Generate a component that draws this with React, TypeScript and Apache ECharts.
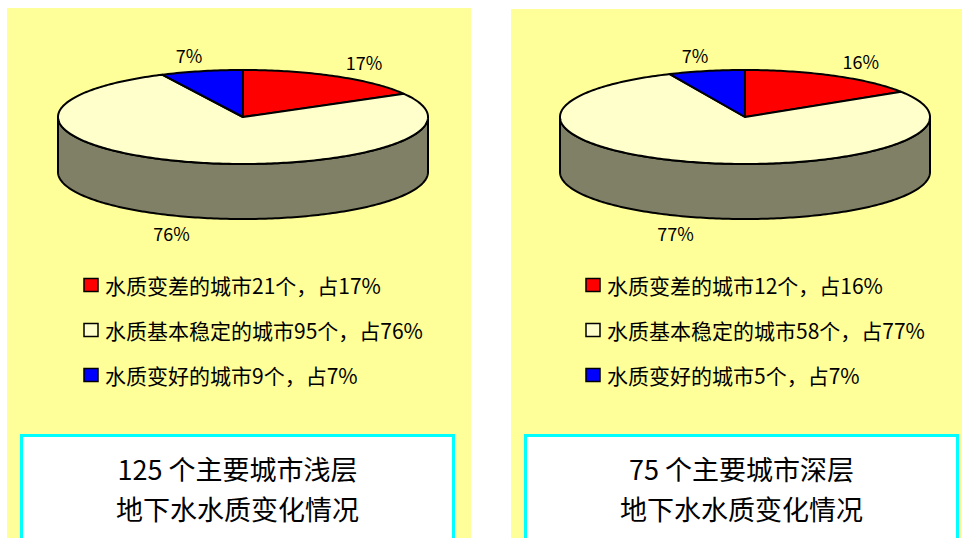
import React, { useEffect, useRef } from "react";
import * as echarts from "echarts";

// ---- data ----
const CATEGORIES = ["变差", "基本稳定", "变好"];
const SHALLOW_COUNTS = [21, 95, 9];
const DEEP_COUNTS = [12, 58, 5];
const SHALLOW_TITLE = ["125 个主要城市浅层", "地下水水质变化情况"];
const DEEP_TITLE = ["75 个主要城市深层", "地下水水质变化情况"];

// ---- styles / layout ----
const SLICE_COLORS = ["#ff0000", "#ffffcc", "#0000ff"];
const SIDE_COLORS = ["#800000", "#808066", "#000080"];
const FONT = '"Noto Sans CJK SC", "Noto Sans", sans-serif';
const PANEL_BG = "#ffff99";
const RX = 185;
const RY = 47;
const DEPTH = 55;

const PANELS = [
  { counts: SHALLOW_COUNTS, title: SHALLOW_TITLE, bgX: 7, bgY: 8, bgW: 464, cx: 243, cy: 117, legendX: 84, boxX: 21.5, boxW: 432 },
  { counts: DEEP_COUNTS, title: DEEP_TITLE, bgX: 511, bgY: 9, bgW: 451, cx: 745, cy: 117, legendX: 586, boxX: 525.5, boxW: 432 },
];
const LEGEND_ROWS_Y = [285, 330, 375];

function pct(counts: number[], i: number) {
  const total = counts.reduce((a, b) => a + b, 0);
  return Math.round((counts[i] / total) * 100);
}

function makeSeries(panel: any, idx: number) {
  const counts: number[] = panel.counts;
  const total = counts.reduce((a, b) => a + b, 0);
  const { cx, cy } = panel;
  const pt = (deg: number, dy = 0) => {
    const r = (deg * Math.PI) / 180;
    return [cx + RX * Math.cos(r), cy - RY * Math.sin(r) + dy];
  };
  const arc = (from: number, to: number, dy = 0) => {
    const pts: number[][] = [];
    const n = Math.max(2, Math.ceil(Math.abs(from - to)));
    for (let k = 0; k <= n; k++) pts.push(pt(from + ((to - from) * k) / n, dy));
    return pts;
  };
  return {
    type: "custom",
    name: "pie" + idx,
    coordinateSystem: "none",
    z: 10,
    silent: true,
    data: counts.map((v, i) => ({ name: CATEGORIES[i], value: v })),
    renderItem: (params: any, api: any) => {
      const i = params.dataIndex;
      const v = api.value(0);
      let cum = 0;
      for (let k = 0; k < i; k++) cum += counts[k];
      const a0 = 90 - (360 * cum) / total;
      const a1 = a0 - (360 * v) / total;
      const children: any[] = [];
      for (let k = -1; k <= 1; k++) {
        const lo = Math.max(a1, -180 + 360 * k);
        const hi = Math.min(a0, 360 * k);
        if (hi > lo) {
          const pts = arc(hi, lo).concat(arc(lo, hi, DEPTH));
          children.push({
            type: "polygon",
            shape: { points: pts },
            style: { fill: SIDE_COLORS[i], stroke: "#000", lineWidth: 2, lineJoin: "round" },
          });
        }
      }
      children.push({
        type: "polygon",
        shape: { points: [[cx, cy]].concat(arc(a0, a1)) },
        style: { fill: SLICE_COLORS[i], stroke: "#000", lineWidth: 2, lineJoin: "round" },
      });
      const mid = ((a0 + a1) / 2) * (Math.PI / 180);
      const s = Math.sin(mid);
      children.push({
        type: "text",
        x: cx + RX * 1.3 * Math.cos(mid),
        y: cy - RY * 1.35 * s + (s < 0 ? DEPTH : 0),
        style: {
          text: pct(counts, i) + "%",
          fill: "#000",
          font: `18px ${FONT}`,
          align: "center",
          verticalAlign: "middle",
        },
      });
      return { type: "group", children };
    },
  };
}

function makeGraphics() {
  const els: any[] = [];
  PANELS.forEach((p) => {
    els.push({
      type: "rect",
      z: 1,
      silent: true,
      shape: { x: p.bgX, y: p.bgY, width: p.bgW, height: 538 - p.bgY },
      style: { fill: PANEL_BG },
    });
    p.counts.forEach((c: number, i: number) => {
      const y = LEGEND_ROWS_Y[i];
      els.push({
        type: "rect",
        z: 2,
        shape: { x: p.legendX, y: y - 6.5, width: 14, height: 13 },
        style: { fill: SLICE_COLORS[i], stroke: "#000", lineWidth: 1.5 },
      });
      els.push({
        type: "text",
        z: 2,
        x: p.legendX + 21,
        y,
        style: {
          text: `水质${CATEGORIES[i]}的城市${c}个，占${pct(p.counts, i)}%`,
          fill: "#000",
          font: `21px ${FONT}`,
          verticalAlign: "middle",
        },
      });
    });
    els.push({
      type: "rect",
      z: 2,
      shape: { x: p.boxX, y: 435.5, width: p.boxW, height: 120 },
      style: { fill: "#ffffff", stroke: "#00ffff", lineWidth: 3 },
    });
    p.title.forEach((line: string, li: number) => {
      els.push({
        type: "text",
        z: 3,
        x: p.boxX + p.boxW / 2,
        y: 468 + li * 40,
        style: {
          text: line,
          fill: "#000",
          font: `27px ${FONT}`,
          align: "center",
          verticalAlign: "middle",
        },
      });
    });
  });
  return els;
}

export default function App() {
  const ref = useRef<HTMLDivElement>(null);
  useEffect(() => {
    if (!ref.current) return;
    const chart = echarts.init(ref.current, undefined, { renderer: "svg" });
    chart.setOption({
      animation: false,
      backgroundColor: "#ffffff",
      graphic: { elements: makeGraphics() },
      series: PANELS.map((p, i) => makeSeries(p, i)),
    });
    return () => chart.dispose();
  }, []);
  return (
    <div
      ref={ref}
      style={{ position: "absolute", left: 0, top: 0, width: 962, height: 538 }}
    />
  );
}
